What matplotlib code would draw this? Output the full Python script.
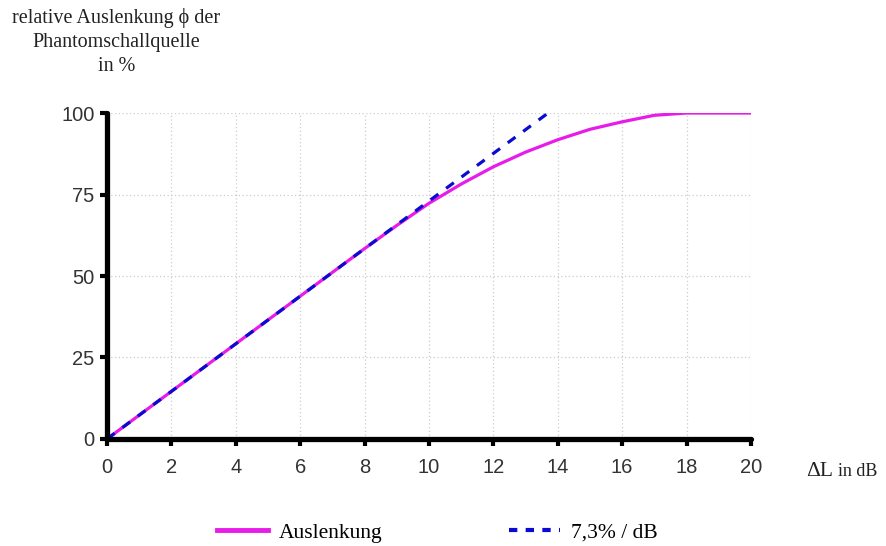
import matplotlib.pyplot as plt
from matplotlib.lines import Line2D

# Daten
pegel_db = [0, 1, 2, 3, 4, 5, 6, 7, 8, 9, 10, 11, 12, 13, 14, 15, 16, 17, 18, 19, 20]
auslenkung = [0, 7.3, 14.6, 21.9, 29.2, 36.5, 43.8, 51.1, 58.4, 65.5, 72.3,
              78.2, 83.5, 88.0, 91.8, 95.0, 97.3, 99.3, 100, 100, 100]
gerade_x = [0, 13.7]
gerade_y = [0, 100]
x_ticks = [0, 2, 4, 6, 8, 10, 12, 14, 16, 18, 20]
y_ticks = [0, 25, 50, 75, 100]

serif = ['Liberation Serif', 'DejaVu Serif']

fig = plt.figure(figsize=(8.87, 5.46), dpi=100)
ax = fig.add_axes([0.1206, 0.196, 0.726, 0.597])

ax.plot(pegel_db, auslenkung, color='#e81ce8', lw=2.3, solid_capstyle='round')
ax.plot(gerade_x, gerade_y, color='#0a0ad0', lw=2.3, dashes=(3, 3))

ax.set_xlim(0, 20)
ax.set_ylim(0, 100)
ax.set_xticks(x_ticks)
ax.set_yticks(y_ticks)
ax.grid(True, color='#cccccc', ls=(0, (1, 2)), lw=0.9)

for s in ['top', 'right']:
    ax.spines[s].set_visible(False)
for s in ['left', 'bottom']:
    ax.spines[s].set_linewidth(3.8)
    ax.spines[s].set_capstyle('round')
ax.tick_params(axis='both', width=3, length=5, color='black', labelcolor='#333333',
               labelsize=14.5)
ax.tick_params(axis='x', pad=9)
ax.tick_params(axis='y', pad=4)
for lab in ax.get_xticklabels() + ax.get_yticklabels():
    lab.set_family('Liberation Sans')

# Achsenbeschriftungen
fig.text(0.131, 0.985, 'relative Auslenkung ϕ der\nPhantomschallquelle\nin %',
         family=serif, fontsize=14.5, ha='center', va='top', linespacing=1.35,
         color='#222222')
fig.text(0.909, 0.128, 'ΔL', family=serif, fontsize=15.5, ha='left', va='baseline',
         color='#222222')
fig.text(0.945, 0.128, 'in dB', family=serif, fontsize=13, ha='left', va='baseline',
         color='#222222')

# Legende
handles = [Line2D([], [], color='#e81ce8', lw=3.5),
           Line2D([], [], color='#0a0ad0', lw=3, dashes=(2, 2))]
fig.legend(handles, ['Auslenkung', '7,3% / dB'], loc='center', ncol=2,
           bbox_to_anchor=(0.493, 0.024), frameon=False, handlelength=2.35,
           columnspacing=5.9, handletextpad=0.5,
           prop={'family': serif, 'size': 15.5})

fig.savefig('out.png', dpi=100)
